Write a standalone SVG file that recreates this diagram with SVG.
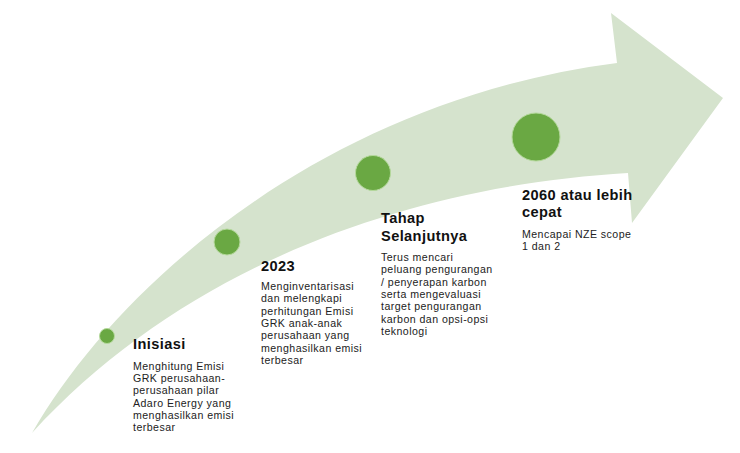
<svg xmlns="http://www.w3.org/2000/svg" width="740" height="453" viewBox="0 0 740 453">
<style>
.t{font-family:"Liberation Sans",Arial,sans-serif;font-weight:bold;font-size:14.6px;letter-spacing:0.4px;fill:#111}
.b{font-family:"Liberation Sans",Arial,sans-serif;font-size:10.6px;letter-spacing:0.45px;fill:#222}
.dot{fill:#6aa843;stroke:#b5d99c;stroke-width:1}
</style>
<rect width="740" height="453" fill="#fff"/>
<g id="arrow">
<path d="M32 433 C120 280 330 100 617 63 L611 13 L723 98 L632 223 L628 173 C420 185 190 260 32 433 Z" fill="#d5e3cd"/>
</g>
<g id="connectors"></g>
<g id="node-inisiasi">
<circle class="dot" cx="107" cy="336" r="7.5"/>
<text class="t" x="133" y="349">Inisiasi</text>
<text class="b" x="133" y="370">Menghitung Emisi</text>
<text class="b" x="133" y="382.2">GRK perusahaan-</text>
<text class="b" x="133" y="394.4">perusahaan pilar</text>
<text class="b" x="133" y="406.6">Adaro Energy yang</text>
<text class="b" x="133" y="418.8">menghasilkan emisi</text>
<text class="b" x="133" y="431">terbesar</text>
</g>
<g id="node-2023">
<circle class="dot" cx="227" cy="242" r="13"/>
<text class="t" x="261" y="271">2023</text>
<text class="b" x="261" y="290">Menginventarisasi</text>
<text class="b" x="261" y="302.3">dan melengkapi</text>
<text class="b" x="261" y="314.6">perhitungan Emisi</text>
<text class="b" x="261" y="326.9">GRK anak-anak</text>
<text class="b" x="261" y="339.2">perusahaan yang</text>
<text class="b" x="261" y="351.5">menghasilkan emisi</text>
<text class="b" x="261" y="363.8">terbesar</text>
</g>
<g id="node-tahap">
<circle class="dot" cx="373" cy="173" r="17.5"/>
<text class="t" x="381" y="223">Tahap</text>
<text class="t" x="381" y="240.5">Selanjutnya</text>
<text class="b" x="381" y="261">Terus mencari</text>
<text class="b" x="381" y="273.3">peluang pengurangan</text>
<text class="b" x="381" y="285.6">/ penyerapan karbon</text>
<text class="b" x="381" y="297.9">serta mengevaluasi</text>
<text class="b" x="381" y="310.2">target pengurangan</text>
<text class="b" x="381" y="322.5">karbon dan opsi-opsi</text>
<text class="b" x="381" y="334.8">teknologi</text>
</g>
<g id="node-2060">
<circle class="dot" cx="536" cy="137" r="24"/>
<text class="t" x="522" y="200">2060 atau lebih</text>
<text class="t" x="522" y="217">cepat</text>
<text class="b" x="522" y="238">Mencapai NZE scope</text>
<text class="b" x="522" y="250">1 dan 2</text>
</g>
</svg>
